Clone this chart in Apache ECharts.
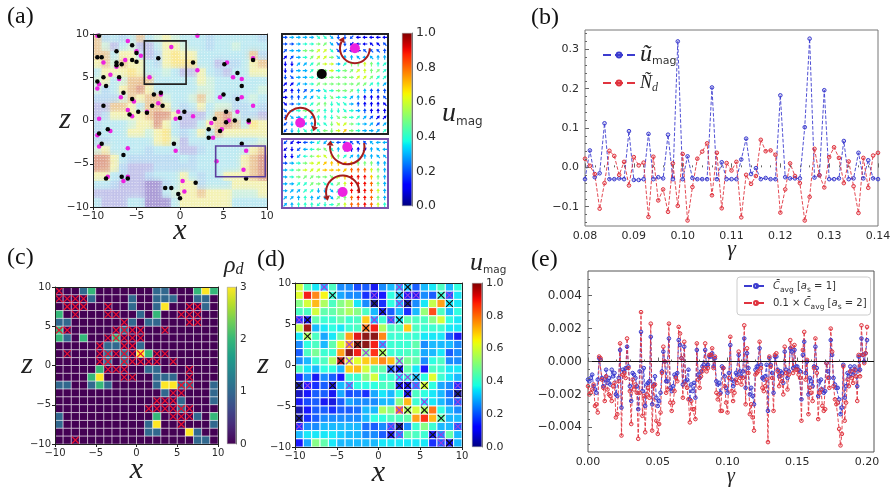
<!DOCTYPE html>
<html>
<head>
<meta charset="utf-8">
<style>html,body{margin:0;padding:0;background:#fff}#c{width:896px;height:489px}</style>
<script src="https://cdn.jsdelivr.net/npm/echarts@6/dist/echarts.min.js"></script>
</head>
<body>
<div id="c"></div>
<script>
// (a) velocity field: one digit per cell, top row first (0 = lowest speed, 8 = highest)
const fieldRows = [
"72323734543332333332","74134113554332334333","77355312565533333372","57475532566633122357",
"35556533431153213355","45347773333354333333","42357853333344333334","22247577433474332343",
"11775377532353442232","12555578851113784221","23334558531135787365","23335545632353755555",
"22333335641333333334","45333323331123333357","88532222223233333578","88521112222233333578",
"55321123335323355578","33211100235523335555","11111100345575554445","31113300035555553333"];
const blackPts = [[-9.3,9.8],[-9.5,7.3],[-9,7.3],[-7.3,8],[-7.3,6.7],[-7.3,6.4],[-6.7,6.5],[-5.5,8.7],[-5.5,7],[-5,7.8],[-5,6.8],[-2.5,7.2],[1.5,6.7],[5.1,6.5],[6.6,5.5],[8.4,7],[7.1,4],[6.6,2.5],[5,3],[-8.8,5],[-7,5],[-9.5,4.5],[-8.5,4],[-6.5,3.2],[-3,3],[-2.2,3.2],[-5.5,2.5],[-8.8,1.7],[-3.2,1.7],[-2,1.7],[-4.8,1],[-3.8,0.9],[-5.8,0.7],[0.5,1],[0,0.3],[4,0.2],[5.3,1],[6.3,0],[5.3,-0.2],[7.9,0],[3.3,-1],[3.3,-2],[4.6,-1.2],[-8.3,-1],[-9.3,-1.5],[-9,-2.7],[-6.5,-4],[-8.5,-6.7],[-6.7,-6.5],[-6,-6.7],[-0.7,-2.7],[7.1,-2.7],[7.6,-6.7],[1.8,-7.2],[-1.7,-7.8],[-1,-7.8],[-0.2,-8.5],[0,-9]];
const magentaPts = [[-9.5,9.8],[-6,9.2],[2,9.8],[-1,8.5],[-5,8],[-4.5,7.5],[-8.8,6.7],[-6.3,7],[-7.3,6.2],[-8,5.3],[-7,4.8],[-3.5,5],[2,5.8],[5.4,6.7],[8.4,7.2],[6.1,5],[7.1,4.8],[-9.3,4.2],[-9.5,3.7],[-6.8,2.7],[-5.3,2.2],[-2.2,3],[-2.5,2],[-6,1.2],[-5.5,0.5],[-3.8,1],[-0.2,1],[-0.5,0.2],[1.5,0.5],[4.6,2.7],[7.1,2.7],[8.4,1.7],[6.6,1],[5.6,0],[7.9,-0.2],[3.6,-0.3],[4.8,-1],[3.8,-2],[-9.3,0.2],[-8,-1.2],[-9.5,-1.7],[-9.3,-3],[-6,-3.2],[-0.5,-3.5],[7.6,-3.5],[4.2,-4.7],[7.3,-5.7],[-8.3,-6.5],[-6.5,-7],[-6,-6.5],[0.3,-7],[0.5,-8.2]];
const blackBox = [[-4.1,4.2],[0.7,9.2]];
const purpleBox = [[4.1,-6.5],[9.8,-2.95]];

// (a) enlarged regions: speed in tenths and heading in steps of 45 degrees (0 = east)
const upperSpeed = ["2333344322211111","2234455322111112","2335566422112222","1234566533333333","1133456634556544","1233455645566554","2233445555566544","1133455555555443","1122334455543222","1223344544331112","1234455444321111","2345454444432111","2334344455443211","2333344566543323","2344445567543334"];
const upperHeading = ["0000077766544444","0000001776544333","1000011775443332","1100111072234322","6611110001222221","6600110000112211","6700010000011111","1110010000011121","1221107000122222","0221176700122223","7000112677022223","7000012667002222","6701122670011111","5671233671000111","5667234601000011"];
const lowerSpeed = ["2112343322222333","1123455432111333","1134566654333333","2345667777755533","3456667777888653","3455555567999753","3344554456999853","3334433345999863","3334333355899853","3344444456889864"];
const lowerHeading = ["5544455444333344","5654443322221234","6654443221122233","0000011221222222","0000110001222222","0001100712222222","0011107712222222","0111166712222222","1122256712222222","1222256012222222"];

// (b) normalised signals for 0.080 <= gamma <= 0.140 in steps of 0.001
const uMag = [-0.03,0.043,-0.025,-0.015,0.112,-0.03,-0.03,-0.028,-0.03,0.092,-0.032,-0.032,-0.03,0.085,-0.03,-0.025,-0.028,0.083,-0.03,0.32,-0.03,0.028,-0.027,-0.03,-0.03,-0.03,0.203,-0.03,0.013,-0.03,-0.03,-0.03,0.02,0.073,-0.017,-0.002,-0.03,-0.027,-0.03,-0.03,0.183,-0.025,-0.028,-0.028,-0.028,0.102,0.327,-0.026,-0.02,0.196,-0.03,-0.03,-0.028,0.067,-0.03,-0.028,0.037,-0.028,0.018,-0.028,-0.03];
const nDrop = [0.022,0.004,-0.017,-0.105,-0.04,0.042,0.029,-0.019,0.014,-0.046,0.026,0.005,0.012,-0.126,0.027,-0.084,-0.056,-0.113,0.01,-0.098,0.034,-0.135,-0.05,0.022,0.04,0.061,-0.071,0.037,-0.104,0.011,-0.008,0.014,-0.127,-0.019,-0.042,-0.022,0.07,0.041,0.043,0.032,-0.115,-0.056,0.01,-0.022,-0.04,-0.135,-0.075,0.047,-0.02,-0.051,0.026,0.051,0.024,-0.04,0.015,-0.048,-0.116,0.024,-0.052,0.03,0.037];

// (c) droplet density per cell, top row first
const rhoRows = ["00012000000011000232","00001000010011100110","00000000010013000010","20000000001020000000","11000000010110000000","20000000100000000000","21020002000000000000","00000011001000000000","00000010103200000000","00000010100000000000","00000200000110000000","00002300000011100000","11001210000013311001","00000000000001000001","00000000000000010001","00000000000000010000","10000000000020000102","10000000000130000001","00000000000110003100","00000000000000000110"];
const redCrossCols = [[0],[0,1,2,3],[1,2,3,6,16,17],[2,6,7,15,16,17],[8,16,17],[0,1,7,8,9,10,13],[6,7,8,9,10],[5,8,9],[1,5,6,7,8,9,10,12,13],[5,6,8,9,10,11,12,14],[6,7,8,16],[8,9,16],[15,16],[14,15],[12,13,14],[11,12,13,14,15,16],[14,15,16],[15],[],[2]];

// (d) coarse-grained speed per cell, top row first
const speedRows = [
[0.6,0.42,0.35,0.3,0.42,0.25,0.25,0.18,0.2,0.1,0.25,0.3,0.3,0.3,0.2,0.3,0.35,0.42,0.3,0.38],
[0.62,0.9,0.78,0.65,0.4,0.28,0.25,0.25,0.15,0.1,0.12,0.38,0.3,0.1,0.1,0.25,0.2,0.4,0.2,0.35],
[0.5,0.6,0.72,0.55,0.42,0.5,0.55,0.35,0.25,0.02,0.15,0.38,0.3,0.03,0.25,0.35,0.58,0.75,0.35,0.35],
[0.42,0.42,0.6,0.45,0.45,0.5,0.55,0.5,0.42,0.3,0.1,0.2,0.3,0.15,0.3,0.52,0.85,0.42,0.3,0.38],
[0.15,0.1,0.45,0.4,0.4,0.45,0.4,0.42,0.7,0.3,0.4,0.2,0.35,0.45,0.42,0.42,0.5,0.6,0.38,0.35],
[0.58,0.98,0.3,0.35,0.38,0.35,0.4,0.42,0.8,0.9,0.55,0.42,0.42,0.7,0.42,0.4,0.4,0.4,0.35,0.35],
[0.35,0.55,0.42,0.28,0.35,0.45,0.75,0.92,1.0,1.0,0.78,0.4,0.4,0.4,0.4,0.35,0.35,0.35,0.2,0.1],
[0.25,0.38,0.42,0.3,0.45,0.62,0.75,1.0,1.0,0.9,0.3,0.4,0.4,0.4,0.45,0.25,0.3,0.3,0.3,0.25],
[0.2,0.42,0.48,0.4,0.4,0.75,1.0,0.9,0.5,0.88,0.55,0.4,0.4,0.42,0.42,0.28,0.3,0.35,0.2,0.25],
[0.25,0.3,0.4,0.42,0.55,0.95,0.62,0.62,0.7,0.72,0.78,0.72,0.45,0.48,0.45,0.25,0.38,0.42,0.25,0.25],
[0.42,0.35,0.3,0.38,0.38,0.3,0.7,0.72,0.6,0.45,0.45,0.2,0.1,0.45,0.35,0.12,0.42,0.4,0.35,0.35],
[0.15,0.25,0.1,0.25,0.2,0.12,0.4,0.4,0.5,0.6,0.4,0.4,0.35,0.4,0.3,0.38,0.62,0.4,0.35,0.3],
[0.02,0.12,0.15,0.2,0.08,0.3,0.3,0.38,0.38,0.38,0.42,0.42,0.1,0.1,0.25,0.6,0.38,0.28,0.25,0.15],
[0.05,0.12,0.2,0.2,0.1,0.28,0.18,0.2,0.15,0.28,0.35,0.3,0.38,0.1,0.42,0.38,0.35,0.3,0.22,0.02],
[0.1,0.18,0.2,0.1,0.08,0.2,0.28,0.25,0.25,0.25,0.3,0.3,0.5,0.72,0.4,0.35,0.35,0.3,0.25,0.2],
[0.03,0.12,0.2,0.2,0.15,0.2,0.2,0.22,0.3,0.3,0.55,0.5,0.8,0.55,0.6,0.55,0.8,0.38,0.3,0.25],
[0.02,0.15,0.2,0.25,0.25,0.25,0.25,0.25,0.3,0.38,0.38,0.42,0.42,0.45,0.75,0.88,0.72,0.45,0.3,0.3],
[0.15,0.25,0.25,0.3,0.3,0.3,0.3,0.3,0.22,0.2,0.25,0.2,0.02,0.25,0.4,0.5,0.4,0.3,0.3,0.2],
[0.3,0.35,0.35,0.35,0.35,0.32,0.3,0.3,0.25,0.25,0.2,0.1,0.25,0.45,0.42,0.4,0.1,0.25,0.45,0.3],
[0.12,0.28,0.5,0.45,0.35,0.3,0.3,0.3,0.3,0.3,0.35,0.35,0.35,0.35,0.35,0.35,0.15,0.2,0.1,0.3]];
const darkCrossCols = [[13],[4,12,17],[9,13,18],[10],[1,12],[8],[1],[7],[10],[5],[11,12],[14],[0,4,12,13,15],[13,19],[],[13,15],[0,17],[12],[11,16],[18]];
const violetCrossCols = [[3,12],[9,13,14,18],[12],[],[0,9,11],[],[],[6,10],[8],[6,12],[],[12,13],[1,6,14,19],[],[15,19],[12],[],[0,11,19],[12,17],[17]];

// (e) averaged signal in units of 1e-3, gamma from 0 to 0.2 in steps of 0.001
const cAvg1 = [-1.1,-1.2,-1.0,-0.8,-1.5,-1.7,-1.9,-1.1,0.2,0.1,-1.0,-1.5,-1.1,-0.5,-1.3,-1.0,-1.4,-0.5,-0.9,-0.7,-2.0,-2.1,-1.0,0.7,-2.8,-0.5,-0.6,-0.4,0.9,-0.3,-1.5,-2.4,-0.7,-0.8,-1.0,-1.5,-2.9,-0.6,1.8,-1.8,-0.4,-2.7,-1.4,-1.3,-1.2,1.5,-2.6,-1.4,-0.9,-2.2,-2.7,-2.4,-1.9,-0.6,0.6,0.0,-1.2,-1.2,1.4,-1.6,-1.8,-1.5,-0.8,-0.9,-0.7,1.3,1.0,0.2,-1.4,0.9,-1.2,-1.1,-0.5,-2.3,-1.4,-1.8,-1.3,-2.2,0.7,-0.8,-1.0,-0.6,-0.3,-0.2,0.7,-0.3,-0.2,0.3,0.3,0.5,-0.3,0.2,-1.2,-1.4,-1.3,-1.9,-0.3,-0.4,-0.9,-1.6,-1.9,-0.7,1.0,-1.1,-1.5,-1.2,-0.7,-0.8,0.4,-0.6,-0.9,-0.6,1.4,-1.6,0.5,-0.4,-2.0,-1.6,-2.1,-2.6,-0.5,-0.3,-0.3,0.8,-0.2,-1.0,-1.1,-0.9,-0.2,-3.0,0.2,-0.2,-0.7,-1.9,0.3,0.3,-0.5,-0.9,-0.6,-0.7,-1.3,0.6,-0.5,-1.0,-0.6,0.8,0.6,-0.4,0.7,-0.3,-0.3,-0.5,-0.6,-2.3,0.4,1.2,-0.7,0.0,-2.0,-1.0,-1.2,-1.5,-0.3,0.9,-0.4,-2.1,-1.2,-1.1,-1.7,-1.9,-1.8,-0.1,-0.6,-1.0,1.3,0.4,-1.0,-1.4,-1.6,-1.6,-2.3,-3.2,-2.8,-0.2,-2.2,-1.5,-0.7,-0.9,-0.3,-0.6,-0.8,-0.3,-0.5,-1.5,0.3,-0.5,1.4,0.4,0.0,0.5,1.3];
const cAvg2 = [-1.5,-2.0,-1.9,-1.7,-1.4,-2.7,-2.6,-3.1,0.3,0.2,-1.1,-1.6,-2.4,-0.9,-1.7,-2.0,-2.1,-2.4,-1.5,-1.3,-3.4,-3.2,-1.2,1.1,-4.5,-0.8,-0.7,-1.0,1.4,-0.4,-1.8,-3.8,-1.1,-1.7,-1.4,-1.9,-4.7,-1.9,3.0,-3.3,-2.1,-4.3,-2.0,-1.6,-2.2,2.3,-4.2,-1.5,-1.4,-3.6,-4.4,-3.8,-3.1,-0.7,0.9,0.0,-1.9,-1.7,2.3,-2.5,-3.0,-2.5,-1.8,-1.0,-1.2,2.1,1.7,0.2,-2.2,1.2,-1.4,-1.6,-2.3,-3.7,-2.4,-2.9,-2.9,-3.5,1.1,-1.1,-1.6,-0.9,-0.6,-0.4,1.1,-0.6,-0.4,0.4,0.4,0.8,-0.4,0.3,-1.9,-2.3,-2.0,-3.0,-3.0,-0.4,-1.5,-2.5,-3.1,-1.0,1.5,-1.8,-2.4,-1.9,-1.1,-1.3,0.6,-1.0,-1.4,-1.0,2.2,-2.6,0.8,-0.7,-3.2,-2.6,-3.4,-4.2,-0.8,-0.7,-0.6,1.2,-0.4,-1.6,-1.8,-1.5,-1.1,-4.9,0.3,-0.3,-1.0,-3.0,0.4,0.5,-0.6,-1.5,-0.9,-1.2,-2.0,0.9,-0.7,-1.7,-0.8,1.3,0.9,-0.7,1.0,-0.5,-0.5,-0.8,-1.0,-3.6,0.7,1.8,-1.1,0.1,-3.2,-1.6,-1.9,-2.4,-0.4,1.4,-0.7,-3.5,-1.9,-1.7,-2.7,-3.0,-2.9,-0.1,-1.0,-1.6,2.0,0.6,-1.5,-2.3,-2.6,-2.5,-4.1,-5.1,-4.4,-0.3,-3.6,-2.5,-1.1,-1.5,-0.6,-1.0,-1.3,-0.5,-0.9,-2.4,0.4,-0.9,2.2,0.4,-0.1,0.5,2.1];

// Tick values
const gammaTicksB = [0.08,0.09,0.10,0.11,0.12,0.13,0.14];
const valueTicksB = [-0.1,0,0.1,0.2,0.3];
const gammaTicksE = [0,0.05,0.10,0.15,0.20];
const valueTicksE = [-0.004,-0.002,0,0.002,0.004];

// Colour scales
function lerp(t, xs, ys) {
  for (let i = 1; i < xs.length; i++) {
    if (t <= xs[i]) return ys[i-1] + (ys[i]-ys[i-1]) * (t-xs[i-1]) / (xs[i]-xs[i-1]);
  }
  return ys[ys.length-1];
}
function jet(t) {
  const r = lerp(t,[0,.35,.66,.89,1],[0,0,1,1,.5]);
  const g = lerp(t,[0,.125,.375,.64,.91,1],[0,0,1,1,0,0]);
  const b = lerp(t,[0,.11,.34,.65,1],[.5,1,1,0,0]);
  return `rgb(${Math.round(r*255)},${Math.round(g*255)},${Math.round(b*255)})`;
}
const viridisHex = ['#440154','#482878','#3e4989','#31688e','#26828e','#1f9e89','#35b779','#6ece58','#b5de2b','#fde725'];
function viridis(t) {
  const p = Math.min(t,1)*(viridisHex.length-1), i = Math.floor(p);
  return i >= viridisHex.length-1 ? viridisHex[viridisHex.length-1] : echarts.color.lerp(p-i,[viridisHex[i],viridisHex[i+1]]);
}
const fieldPalette = ['#ab9cd6','#c3c3ea','#bcdcf2','#bfeaf2','#d3f1df','#f4f2b6','#fae894','#eccb9f','#dfa28f'];
const gradient = (fn) => {
  const stops = [];
  for (let i = 0; i <= 40; i++) stops.push({offset:i/40, color:fn(1-i/40)});
  return new echarts.graphic.LinearGradient(0,0,0,1,stops);
};

const sans = '"DejaVu Sans"';
const math = '"Liberation Serif"';
const ink = '#2b2b2b';
const minus = (s) => String(s).replace('-', '\u2212');

const grids = [], xAxes = [], yAxes = [], series = [];
function addGrid(left, top, width, height, extra) {
  grids.push(Object.assign({left, top, width, height, containLabel:false}, extra || {}));
  return grids.length - 1;
}
// Boxed spatial axes with outward ticks on the lower and left sides
function spatialAxes(g, fontSize, xName, yName) {
  const line = {show:true, onZero:false, lineStyle:{color:'#222', width:1}};
  const label = {fontSize, color:ink, fontFamily:sans, margin:4, formatter:minus, showMinLabel:true, showMaxLabel:true, hideOverlap:false};
  xAxes.push({gridIndex:g, type:'value', min:-10, max:10, interval:5, position:'bottom', z:10, axisLine:line,
    axisTick:{length:3, lineStyle:{color:'#222'}}, splitLine:{show:false}, axisLabel:label,
    name:xName.text, nameLocation:'middle', nameGap:xName.gap, nameMoveOverlap:false,
    nameTextStyle:{fontFamily:math, fontStyle:'italic', fontSize:xName.size, color:'#222'}});
  xAxes.push({gridIndex:g, type:'value', min:-10, max:10, position:'top', z:10, axisLine:line, axisTick:{show:false}, axisLabel:{show:false}, splitLine:{show:false}});
  yAxes.push({gridIndex:g, type:'value', min:-10, max:10, interval:5, position:'left', z:10, axisLine:line,
    axisTick:{length:3, lineStyle:{color:'#222'}}, splitLine:{show:false}, axisLabel:label,
    name:yName.text, nameLocation:'middle', nameGap:yName.gap, nameRotate:0, nameMoveOverlap:false,
    nameTextStyle:{fontFamily:math, fontStyle:'italic', fontSize:yName.size, color:'#222', padding:[6,0,0,0]}});
  yAxes.push({gridIndex:g, type:'value', min:-10, max:10, position:'right', z:10, axisLine:line, axisTick:{show:false}, axisLabel:{show:false}, splitLine:{show:false}});
  return [xAxes.length-2, yAxes.length-2];
}
// Signal axes: inward major ticks plus a companion axis holding the minor ticks
function signalAxes(g, cfg) {
  const lineColor = '#666';
  const ticks = (v, n) => { const out = []; for (let i = 0; i <= n; i++) out.push(v[0] + (v[1]-v[0])*i/n); return out; };
  xAxes.push({gridIndex:g, type:'value', min:cfg.x[0], max:cfg.x[1], position:'bottom', z:10,
    axisLine:{show:false}, axisTick:{inside:true, length:4, lineStyle:{color:lineColor}, customValues:cfg.xTicks},
    splitLine:{show:false},
    axisLabel:{fontSize:11, color:ink, fontFamily:sans, margin:5, customValues:cfg.xTicks, formatter:(v)=>v.toFixed(2)},
    name:'\u03b3', nameLocation:'middle', nameGap:cfg.xGap, nameMoveOverlap:false,
    nameTextStyle:{fontFamily:math, fontStyle:'italic', fontSize:cfg.nameSize, color:'#222'}});
  xAxes.push({gridIndex:g, type:'value', min:cfg.x[0], max:cfg.x[1], position:'bottom', z:10, axisLine:{show:false},
    axisTick:{inside:true, length:2, lineStyle:{color:lineColor}, customValues:ticks(cfg.xMinor[0], cfg.xMinor[1])},
    axisLabel:{show:false}, splitLine:{show:false}});
  yAxes.push({gridIndex:g, type:'value', min:cfg.y[0], max:cfg.y[1], position:'left', z:10,
    axisLine:{show:false}, axisTick:{inside:true, length:4, lineStyle:{color:lineColor}, customValues:cfg.yTicks},
    splitLine:{show:false},
    axisLabel:{fontSize:cfg.yFont, color:ink, fontFamily:sans, margin:6, customValues:cfg.yTicks, formatter:(v)=>minus(v.toFixed(cfg.yDigits))}});
  yAxes.push({gridIndex:g, type:'value', min:cfg.y[0], max:cfg.y[1], position:'left', z:10, axisLine:{show:false},
    axisTick:{inside:true, length:2, lineStyle:{color:lineColor}, customValues:ticks(cfg.yMinor[0], cfg.yMinor[1])},
    axisLabel:{show:false}, splitLine:{show:false}});
  return [xAxes.length-2, yAxes.length-2];
}
// Vertical colour bar: a single gradient bar on its own value axis
function colorBar(left, top, width, height, maxValue, interval, digits, fontSize, fn) {
  const g = addGrid(left, top, width, height);
  xAxes.push({gridIndex:g, type:'category', data:['scale'], show:false});
  yAxes.push({gridIndex:g, type:'value', min:0, max:maxValue, interval, position:'right', z:10,
    axisLine:{show:true, lineStyle:{color:'#777'}}, axisTick:{length:3, lineStyle:{color:'#555'}}, splitLine:{show:false},
    axisLabel:{fontSize, color:ink, fontFamily:sans, margin:4, formatter:(v)=>v.toFixed(digits)}});
  series.push({type:'bar', xAxisIndex:xAxes.length-1, yAxisIndex:yAxes.length-1, data:[maxValue], barWidth:'100%',
    itemStyle:{color:gradient(fn), borderColor:'#888', borderWidth:0.5}, silent:true});
}
// Square cell layer drawn through the panel's value axes
function cellLayer(axes, cells, colorOf, stroke, strokeWidth, soft, opacity) {
  series.push({type:'custom', xAxisIndex:axes[0], yAxisIndex:axes[1], data:cells, z:2, silent:true, clip:true,
    encode:{x:0, y:1},
    renderItem:(p, api) => {
      const c = api.coord([api.value(0)-0.5, api.value(1)+0.5]);
      const s = api.size([1,1]);
      const fill = colorOf(api.value(2));
      const style = {fill, stroke, lineWidth:strokeWidth, opacity};
      if (soft) { style.shadowBlur = 7; style.shadowColor = fill; }
      return {type:'rect', shape:{x:c[0], y:c[1], width:s[0], height:s[1]}, style};
    }});
}
// Pale lattice standing in for the densely packed glyphs of the full field
function latticeLayer(axes, cells) {
  series.push({type:'custom', xAxisIndex:axes[0], yAxisIndex:axes[1], data:cells, z:3, silent:true, clip:true,
    encode:{x:0, y:1},
    renderItem:(p, api) => {
      const c = api.coord([api.value(0)-0.5, api.value(1)+0.5]);
      const s = api.size([1,1]);
      const kids = [];
      for (let i = 0; i < 3; i++) for (let j = 0; j < 3; j++) {
        kids.push({type:'rect', shape:{x:c[0]+s[0]*(i+.3)/3, y:c[1]+s[1]*(j+.3)/3, width:1.1, height:1.1},
          style:{fill:'rgba(255,255,255,0.6)'}});
      }
      return {type:'group', children:kids};
    }});
}
function crossLayer(axes, rows, color, size, lineWidth) {
  const pts = [];
  rows.forEach((cols, r) => cols.forEach((k) => pts.push([k-9.5, 9.5-r])));
  series.push({type:'custom', xAxisIndex:axes[0], yAxisIndex:axes[1], data:pts, z:4, silent:true, encode:{x:0, y:1},
    renderItem:(p, api) => {
      const c = api.coord([api.value(0), api.value(1)]);
      const st = {stroke:color, lineWidth};
      return {type:'group', children:[
        {type:'line', shape:{x1:c[0]-size, y1:c[1]-size, x2:c[0]+size, y2:c[1]+size}, style:st},
        {type:'line', shape:{x1:c[0]-size, y1:c[1]+size, x2:c[0]+size, y2:c[1]-size}, style:st}]};
    }});
}
function rowsToCells(rows, parse) {
  const cells = [];
  rows.forEach((row, r) => { for (let k = 0; k < 20; k++) cells.push([k-9.5, 9.5-r, parse(row[k])]); });
  return cells;
}

// Panel (a): field overview
const axA = spatialAxes(addGrid(93, 34, 174, 173), 10.5,
  {text:'x', gap:9, size:30}, {text:'z', gap:22, size:30});
const fieldCells = rowsToCells(fieldRows, Number);
cellLayer(axA, fieldCells, (v)=>fieldPalette[v], 'transparent', 0, true, 1);
latticeLayer(axA, fieldCells);
series.push({type:'scatter', xAxisIndex:axA[0], yAxisIndex:axA[1], data:magentaPts, symbolSize:4.5, z:5, silent:true, itemStyle:{color:'#ec22e0', opacity:1}});
series.push({type:'scatter', xAxisIndex:axA[0], yAxisIndex:axA[1], data:blackPts, symbolSize:4.5, z:6, silent:true, itemStyle:{color:'#050505', opacity:1}});
[[blackBox,'#222'],[purpleBox,'#5b3f9e']].forEach(([box, color]) => {
  series.push({type:'custom', xAxisIndex:axA[0], yAxisIndex:axA[1], data:[[box[0][0],box[0][1],box[1][0],box[1][1]]], z:7, silent:true,
    renderItem:(p, api) => {
      const a = api.coord([api.value(0), api.value(3)]);
      const b = api.coord([api.value(2), api.value(1)]);
      return {type:'rect', shape:{x:a[0], y:a[1], width:b[0]-a[0], height:b[1]-a[1]}, style:{fill:null, stroke:color, lineWidth:1.6}};
    }});
});

// Enlarged regions of panel (a)
const headArrow = 'path://M0,-10 L5,1 L1.6,1 L1.6,10 L-1.6,10 L-1.6,1 L-5,1 Z';
function quiver(left, top, width, height, speed, heading, frame, arcs, spots) {
  const g = addGrid(left, top, width, height, {show:true, borderColor:frame, borderWidth:2, backgroundColor:'#fff', z:3});
  const ny = speed.length, nx = speed[0].length;
  xAxes.push({gridIndex:g, type:'value', min:0, max:nx, show:false});
  yAxes.push({gridIndex:g, type:'value', min:0, max:ny, show:false});
  const xi = xAxes.length-1, yi = yAxes.length-1;
  const pts = [];
  speed.forEach((row, r) => { for (let k = 0; k < nx; k++) pts.push({
    value:[k+.5, ny-r-.5],
    symbolRotate:Number(heading[r][k])*45-90,
    itemStyle:{color:jet(Number(row[k])/10), opacity:1}}); });
  series.push({type:'scatter', xAxisIndex:xi, yAxisIndex:yi, data:pts, symbol:headArrow, symbolSize:[3.6,5], z:3, silent:true});
  spots.forEach(([color, pos]) => series.push({type:'scatter', xAxisIndex:xi, yAxisIndex:yi, data:pos, symbolSize:10, z:5, silent:true, itemStyle:{color, opacity:1}}));
  series.push({type:'custom', xAxisIndex:xi, yAxisIndex:yi, data:arcs, z:6, silent:true, encode:{x:0, y:1},
    renderItem:(p, api) => {
      const c = api.coord([api.value(0), api.value(1)]);
      const r = api.size([api.value(2), 0])[0];
      const a0 = api.value(3)*Math.PI/180, a1 = api.value(4)*Math.PI/180, cw = api.value(5) > 0;
      const ex = c[0]+r*Math.cos(a1), ey = c[1]+r*Math.sin(a1);
      const tx = (cw?-1:1)*Math.sin(a1), ty = (cw?1:-1)*Math.cos(a1);
      const nx2 = -ty, ny2 = tx;
      return {type:'group', children:[
        {type:'arc', shape:{cx:c[0], cy:c[1], r, startAngle:a0, endAngle:a1, clockwise:cw}, style:{fill:null, stroke:'#a51d1d', lineWidth:2}},
        {type:'polygon', shape:{points:[[ex+tx*5,ey+ty*5],[ex+nx2*3.5,ey+ny2*3.5],[ex-nx2*3.5,ey-ny2*3.5]]}, style:{fill:'#a51d1d'}}]};
    }});
}
quiver(282, 34, 106, 100, upperSpeed, upperHeading, '#222',
  [[11,12.85,2.25,0,207,1],[2.75,1.7,2.25,190,375,1]],
  [['#ec22e0',[[11,12.85],[2.75,1.7]]],['#050505',[[6,9]]]]);
quiver(282, 139, 106, 69, lowerSpeed, lowerHeading, '#7d52ad',
  [[9.85,8.84,2.6,-13,185,1],[9.15,2.32,2.5,3,-194,0]],
  [['#ec22e0',[[9.85,8.84],[9.15,2.32]]]]);
colorBar(402, 33, 10, 173, 1, 0.2, 1, 12.5, jet);

// Panel (b): signals against gamma
const gB = addGrid(585, 30, 293, 196, {show:true, borderColor:'#777', borderWidth:1});
const axB = signalAxes(gB, {x:[0.08,0.14], y:[-0.149,0.349], xTicks:gammaTicksB, yTicks:valueTicksB, xMinor:[[0.08,0.14],30],
  yMinor:[[-0.14,0.34],24], xGap:12, nameSize:22, yFont:11, yDigits:1});
function signalSeries(name, axes, xStart, values, scale, color, fill, size, width) {
  return {type:'line', name, xAxisIndex:axes[0], yAxisIndex:axes[1], z:3,
    data:values.map((v,i)=>[xStart+i*0.001, v*scale]),
    symbol:'circle', symbolSize:size, showAllSymbol:true, clip:true,
    lineStyle:{color, width, type:'dashed', dashOffset:0},
    itemStyle:{color:fill, borderColor:color, borderWidth:1}, emphasis:{disabled:true}};
}
series.push(signalSeries('uMagSignal', axB, 0.08, uMag, 1, '#3c3ccf', 'rgba(60,60,207,0.2)', 3.6, 0.9));
series.push(signalSeries('nDropSignal', axB, 0.08, nDrop, 1, '#e0343f', 'rgba(224,52,63,0.2)', 3.6, 0.9));

// Panel (c): droplet density
const axC = spatialAxes(addGrid(55, 287, 163, 157), 10,
  {text:'x', gap:11, size:30}, {text:'z', gap:22, size:30});
cellLayer(axC, rowsToCells(rhoRows, Number), (v)=>viridis(v/3), 'rgba(255,255,255,0.45)', 1, false, 1);
crossLayer(axC, redCrossCols, '#ea1030', 3.4, 1.2);
colorBar(227, 287, 9, 157, 3, 1, 0, 10.5, viridis);

// Panel (d): coarse-grained speed
const axD = spatialAxes(addGrid(295, 283, 167, 164), 10,
  {text:'x', gap:11, size:30}, {text:'z', gap:26, size:30});
cellLayer(axD, rowsToCells(speedRows, Number), jet, '#fff', 1, false, 0.9);
crossLayer(axD, violetCrossCols, '#9b3fe0', 3.4, 1.1);
crossLayer(axD, darkCrossCols, '#111', 3.4, 1.1);
colorBar(472, 283, 10, 164, 1, 0.2, 1, 11, jet);

// Panel (e): averaged signal for two particle radii
const gE = addGrid(588, 271, 286, 181, {show:true, borderColor:'#555', borderWidth:1});
const axE = signalAxes(gE, {x:[0,0.205], y:[-0.0055,0.0055], xTicks:gammaTicksE, yTicks:valueTicksE, xMinor:[[0,0.2],20],
  yMinor:[[-0.005,0.005],20], xGap:15, nameSize:20, yFont:12, yDigits:3});
const blueE = signalSeries('cAvgOne', axE, 0, cAvg1, 1e-3, '#3c3ccf', 'rgba(60,60,207,0.3)', 3.6, 0.9);
const redE = signalSeries('cAvgTwo', axE, 0, cAvg2, 1e-3, '#e0343f', 'rgba(224,52,63,0.15)', 3.6, 0.9);
redE.markLine = {silent:true, symbol:'none', label:{show:false}, lineStyle:{color:'#111', width:1.2, type:'solid'}, data:[{yAxis:0}], animation:false};
series.push(blueE, redE);

const legendLabels = {
  uMagSignal:'{u|\u0169}{s|mag}', nDropSignal:'{v|\u00d1}{sub|d}',
  cAvgOne:'{c|C\u0304}{t|avg}{n| [}{c|a}{t|s}{n| = 1]}', cAvgTwo:'{n|0.1 \u00d7 }{c|C\u0304}{t|avg}{n| [}{c|a}{t|s}{n| = 2]}'
};
const option = {
  animation:false,
  backgroundColor:'#fff',
  grid:grids, xAxis:xAxes, yAxis:yAxes, series,
  legend:[
    {data:['uMagSignal','nDropSignal'], orient:'vertical', left:597, top:38, itemWidth:32, itemHeight:6, itemGap:7,
     formatter:(n)=>legendLabels[n], selectedMode:false,
     textStyle:{rich:{
       u:{fontFamily:math, fontStyle:'italic', fontSize:24, color:'#222', height:26},
       v:{fontFamily:math, fontStyle:'italic', fontSize:18, color:'#222', height:22},
       s:{fontFamily:sans, fontSize:11, color:'#333', verticalAlign:'bottom', padding:[0,0,1,0]},
       sub:{fontFamily:math, fontStyle:'italic', fontSize:12, color:'#333', verticalAlign:'bottom'}}}},
    {data:['cAvgOne','cAvgTwo'], orient:'vertical', left:737, top:277, padding:[4,4,4,6], itemWidth:24, itemHeight:5, itemGap:4,
     backgroundColor:'#fff', borderColor:'#ccc', borderWidth:1, borderRadius:3,
     formatter:(n)=>legendLabels[n], selectedMode:false,
     textStyle:{rich:{
       c:{fontFamily:sans, fontStyle:'italic', fontSize:10, color:'#333', height:16},
       t:{fontFamily:sans, fontSize:7.5, color:'#333', verticalAlign:'bottom'},
       n:{fontFamily:sans, fontSize:10, color:'#333'}}}}
  ],
  graphic:[
    ...[['(a)',7,17],['(b)',531,18],['(c)',7,258],['(d)',257,260],['(e)',531,260]].map(([t,x,y])=>(
      {type:'text', x, y, style:{text:t, fontFamily:math, fontSize:24, fill:'#111', textVerticalAlign:'middle'}})),
    {type:'text', x:442, y:114, style:{text:'{u|u}{s|mag}', textVerticalAlign:'middle', rich:{
      u:{fontFamily:math, fontStyle:'italic', fontSize:28, fill:'#222'}, s:{fontFamily:sans, fontSize:12, fill:'#333', verticalAlign:'bottom'}}}},
    {type:'text', x:470, y:263, style:{text:'{u|u}{s|mag}', textVerticalAlign:'middle', rich:{
      u:{fontFamily:math, fontStyle:'italic', fontSize:26, fill:'#222'}, s:{fontFamily:sans, fontSize:10.5, fill:'#333', verticalAlign:'bottom'}}}},
    {type:'text', x:224, y:266, style:{text:'{u|\u03c1}{s|d}', textVerticalAlign:'middle', rich:{
      u:{fontFamily:math, fontStyle:'italic', fontSize:24, fill:'#222'}, s:{fontFamily:math, fontStyle:'italic', fontSize:16, fill:'#222', verticalAlign:'bottom'}}}}
  ]
};
echarts.init(document.getElementById('c'), null, {renderer:'canvas'}).setOption(option);
</script>
</body>
</html>
